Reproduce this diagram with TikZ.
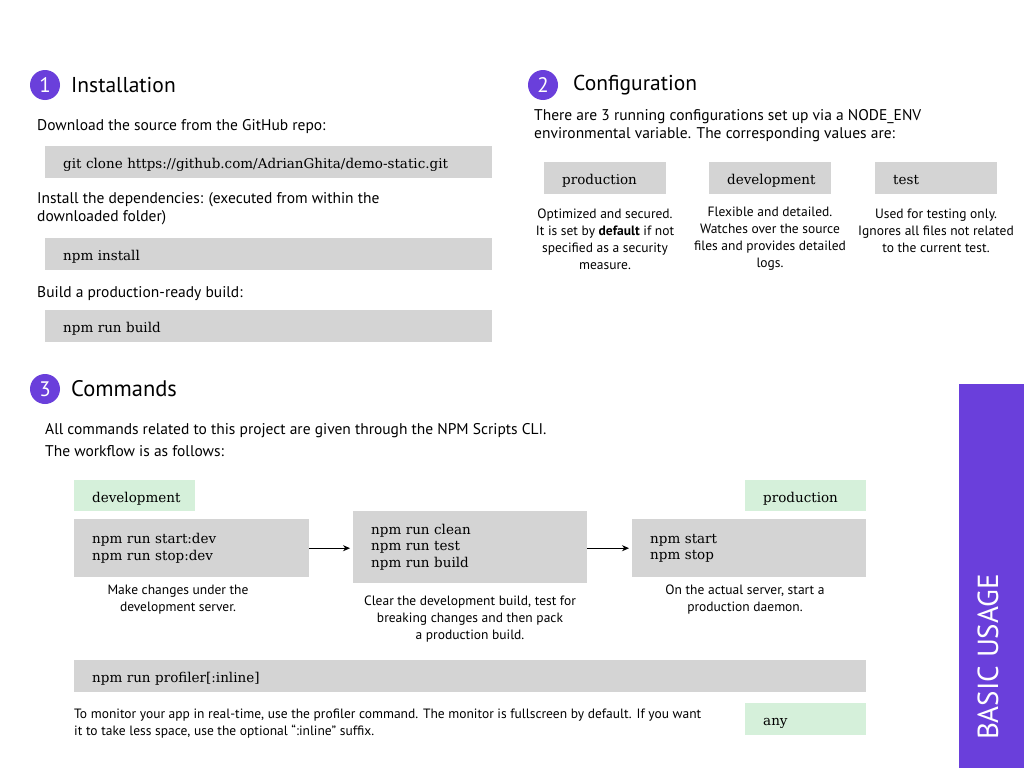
\documentclass[tikz,border=0pt]{standalone}
\usepackage{fontspec}
\setmainfont{PT Sans}
\newfontfamily\slab{DejaVu Serif}
\usetikzlibrary{arrows.meta}
\definecolor{purp}{HTML}{6A3FDB}
\definecolor{gbox}{HTML}{D4D4D4}
\definecolor{grn}{HTML}{D5F0DA}
\begin{document}
\begin{tikzpicture}[x=1pt,y=-1pt,
  num/.style={circle,fill=purp,minimum size=30pt,inner sep=0,text=white,font=\fontsize{21}{21}\selectfont},
  head/.style={anchor=west,inner sep=0,font=\fontsize{21.5}{24}\selectfont},
  body/.style={anchor=west,inner sep=0,align=left,font=\fontsize{15.5}{18}\selectfont},
  desc/.style={inner sep=0,align=center,font=\fontsize{13.5}{17}\selectfont},
  cmd/.style={fill=gbox,anchor=north west,inner xsep=18pt,inner ysep=0,align=left,font=\slab\fontsize{13.5}{16.5}\selectfont},
  env/.style={fill=grn,anchor=north west,inner xsep=18pt,inner ysep=0,align=left,font=\slab\fontsize{13.5}{16.5}\selectfont},
  oneline/.style={text height=13.5pt,text depth=0pt},
  flow/.style={-{Stealth[length=7pt,width=6pt]},line width=0.8pt,shorten >=3pt}
]
\useasboundingbox (0,0) rectangle (1024,768);
\fill[white] (0,0) rectangle (1024,768);

% ---- 1 Installation
\node[num] (n1) at (45,85) {1};
\node[head] (h1) at (71,85) {Installation};
\node[body] (t1) at (37,127) {Download the source from the GitHub repo:};
\node[cmd,oneline,text width=411pt,minimum height=32pt] (b1) at (45,146) {git clone https://github.com/AdrianGhita/demo-static.git};
\node[body] (t2) at (37,209) {Install the dependencies: (executed from within the\\downloaded folder)};
\node[cmd,oneline,text width=411pt,minimum height=32pt] (b2) at (45,238) {npm install};
\node[body] (t3) at (37,294) {Build a production-ready build:};
\node[cmd,oneline,text width=411pt,minimum height=32pt] (b3) at (45,310) {npm run build};

% ---- 2 Configuration
\node[num] (n2) at (543,85) {2};
\node[head] (h2) at (573,85) {Configuration};
\node[body] (t4) at (534,126) {There are 3 running configurations set up via a NODE\_ENV\\environmental variable. The corresponding values are:};
\node[cmd,oneline,text width=86pt,minimum height=32pt] (cp) at (544,162) {production};
\node[cmd,oneline,text width=86pt,minimum height=32pt] (cd) at (709,162) {development};
\node[cmd,oneline,text width=86pt,minimum height=32pt] (ct) at (875,162) {test};
\node[desc] (dp) at (605,239) {Optimized and secured.\\It is set by \textbf{default} if not\\specified as a security\\measure.};
\node[desc] (dd) at (770,239) {Flexible and detailed.\\Watches over the source\\files and provides detailed\\logs.};
\node[desc] (dt) at (936,230.5) {Used for testing only.\\Ignores all files not related\\to the current test.};

% ---- 3 Commands
\node[num] (n3) at (45,389) {3};
\node[head,font=\fontsize{22.5}{24}\selectfont] (h3) at (71,389) {Commands};
\node[body,font=\fontsize{15.5}{22}\selectfont] (t5) at (45,440) {All commands related to this project are given through the NPM Scripts CLI.\\The workflow is as follows:};

\node[env,oneline,text width=85pt,minimum height=31pt] (edev) at (74,480) {development};
\node[env,oneline,text width=85pt,minimum height=31pt] (eprod) at (745,480) {production};

\node[cmd,text width=199pt,minimum height=58pt] (ca) at (74,519) {npm run start:dev\\npm run stop:dev};
\node[cmd,text width=198pt,minimum height=72pt] (cb) at (353,511) {npm run clean\\npm run test\\npm run build};
\node[cmd,text width=198pt,minimum height=58pt] (cc) at (632,519) {npm start\\npm stop};

\draw[flow] (ca.east) -- (ca.east -| cb.west);
\draw[flow] (cb.east |- cc.west) -- (cc.west);

\node[desc] (da) at (178,600) {Make changes under the\\development server.};
\node[desc] (db) at (470,619) {Clear the development build, test for\\breaking changes and then pack\\a production build.};
\node[desc] (dc) at (745,600) {On the actual server, start a\\production daemon.};

\node[cmd,oneline,text width=756pt,minimum height=32pt] (cprof) at (74,660) {npm run profiler[:inline]};
\node[desc,anchor=west,align=left] (dprof) at (74,724) {To monitor your app in real-time, use the profiler command. The monitor is fullscreen by default. If you want\\it to take less space, use the optional “:inline” suffix.};
\node[env,oneline,text width=85pt,minimum height=32pt] (eany) at (745,703) {any};

% ---- side bar
\fill[purp] (959,384) rectangle (1024,768);
\node[rotate=90,text=white,inner sep=0,font=\fontsize{29}{29}\selectfont] (side) at (988,657) {BASIC USAGE};
\end{tikzpicture}
\end{document}
